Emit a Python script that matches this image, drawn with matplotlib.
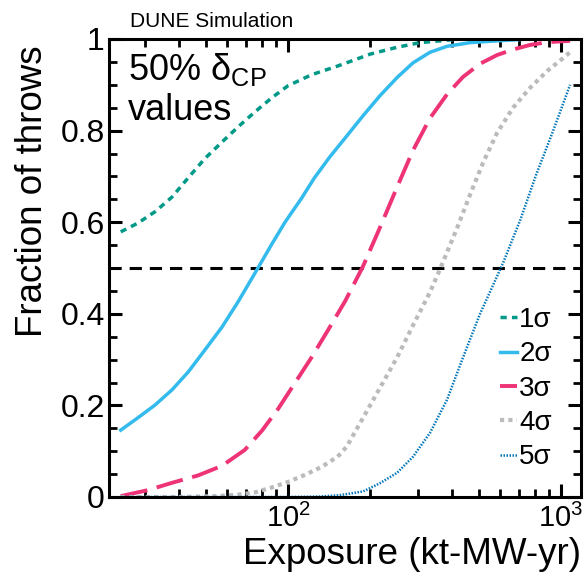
import numpy as np
import matplotlib
matplotlib.use("Agg")
import matplotlib.pyplot as plt
from matplotlib.ticker import LogLocator, MultipleLocator, NullFormatter

plt.rcParams['font.family'] = ['Liberation Sans', 'DejaVu Sans']
plt.rcParams['mathtext.fontset'] = 'custom'
plt.rcParams['mathtext.rm'] = 'Liberation Sans'
plt.rcParams['mathtext.it'] = 'Liberation Sans:italic'
plt.rcParams['mathtext.bf'] = 'Liberation Sans:bold'

# values (exposure in kt-MW-yr, fraction of throws)
x_1s = [24.4, 28.2, 32.6, 37.6, 43.1, 49.6, 57.3, 65.6, 75.7, 87.4, 100, 122, 152, 169, 200, 251, 304, 426, 600, 1100]
y_1s = [0.579, 0.598, 0.623, 0.655, 0.697, 0.739, 0.775, 0.808, 0.841, 0.872, 0.898, 0.922, 0.941, 0.951, 0.967, 0.982, 0.992, 1.0, 1.0, 1.0]

x_2s = [24.4, 28.2, 32.6, 37.6, 43.1, 49.6, 57.3, 65.6, 75.7, 87.4, 97.5, 112, 125, 142, 164, 188, 217, 251, 287, 331, 382, 464, 583, 770, 1100]
y_2s = [0.146, 0.173, 0.201, 0.234, 0.273, 0.321, 0.371, 0.426, 0.489, 0.553, 0.600, 0.652, 0.697, 0.742, 0.788, 0.832, 0.876, 0.916, 0.948, 0.971, 0.984, 0.992, 0.996, 1.0, 1.0]

x_3s = [24.4, 30.7, 37.6, 46.8, 57.3, 69.5, 80.3, 91.9, 106, 122, 140, 162, 188, 217, 251, 287, 331, 382, 437, 505, 583, 667, 769, 889, 1079]
y_3s = [0.002, 0.015, 0.031, 0.047, 0.068, 0.103, 0.145, 0.192, 0.249, 0.305, 0.364, 0.428, 0.503, 0.588, 0.677, 0.757, 0.827, 0.879, 0.917, 0.946, 0.965, 0.977, 0.987, 0.993, 0.996]

x_4s = [24.4, 40, 55, 65.6, 75.7, 87.4, 100, 115, 133, 152, 164, 188, 217, 251, 287, 331, 360, 416, 464, 518, 583, 667, 769, 889, 1016, 1097]
y_4s = [0.0, 0.0, 0.002, 0.005, 0.010, 0.021, 0.033, 0.048, 0.066, 0.088, 0.110, 0.172, 0.238, 0.305, 0.375, 0.447, 0.497, 0.587, 0.660, 0.730, 0.795, 0.850, 0.893, 0.930, 0.958, 0.975]

x_5s = [24.4, 60, 100, 130, 155, 188, 217, 251, 287, 331, 382, 437, 505, 583, 614, 710, 812, 925, 1079]
y_5s = [0.0, 0.0, 0.0, 0.001, 0.004, 0.012, 0.030, 0.053, 0.088, 0.140, 0.212, 0.304, 0.400, 0.482, 0.512, 0.606, 0.705, 0.792, 0.900]

labels = ['1σ', '2σ', '3σ', '4σ', '5σ']
colors = ['#009988', '#33BBEE', '#EE3377', '#BBBBBB', '#0077BB']
y_ticks = [0, 0.2, 0.4, 0.6, 0.8, 1.0]
y_ticklabels = ['0', '0.2', '0.4', '0.6', '0.8', '1']

fig = plt.figure(figsize=(5.85, 5.79), dpi=100)
ax = fig.add_axes([109/585, 1 - 497/579, 472/585, 458/579])

ax.axhline(0.5, color='black', lw=2.2, dashes=(4, 2.6), zorder=1)

ax.plot(x_1s, y_1s, color=colors[0], lw=2.5, dashes=(1.8, 1.5), label=labels[0])
ax.plot(x_2s, y_2s, color=colors[1], lw=2.5, label=labels[1])
ax.plot(x_3s, y_3s, color=colors[2], lw=2.8, dashes=(7, 2.5), label=labels[2])
ax.plot(x_4s, y_4s, color=colors[3], lw=3.0, dashes=(1, 1), label=labels[3])
ax.plot(x_5s, y_5s, color=colors[4], lw=1.8, dashes=(0.6, 0.6), label=labels[4])

ax.set_xscale('log')
ax.set_xlim(22.1, 1183)
ax.set_ylim(0, 1)
ax.xaxis.set_major_locator(LogLocator(base=10, numticks=10))
ax.xaxis.set_minor_locator(LogLocator(base=10, subs=np.arange(2, 10), numticks=20))
ax.xaxis.set_minor_formatter(NullFormatter())
ax.set_yticks(y_ticks, y_ticklabels)
ax.yaxis.set_minor_locator(MultipleLocator(0.05))

ax.tick_params(which='both', direction='in', top=True, right=True)
ax.tick_params(which='major', length=9.5, width=2.2)
ax.tick_params(which='minor', length=6, width=2.0)
ax.tick_params(axis='y', pad=3, labelsize=23)
ax.tick_params(axis='x', pad=5, labelsize=21)
for s in ax.spines.values():
    s.set_linewidth(2.2)

ax.set_xlabel('Exposure (kt-MW-yr)', fontsize=26.5, loc='right')
ax.xaxis.set_label_coords(1.0, -0.087)
ax.set_ylabel('Fraction of throws', fontsize=26.5, loc='top')
ax.yaxis.set_label_coords(-0.125, 0.985)

ax.text(0.040, 0.9105, '50% δ$_{\\mathrm{CP}}$', transform=ax.transAxes, fontsize=26, va='baseline')
ax.text(0.040, 0.823, 'values', transform=ax.transAxes, fontsize=26, va='baseline')
fig.text(130/585, 1 - 27/579, 'DUNE Simulation', fontsize=15, va='baseline')

ax.legend(loc='upper left', bbox_to_anchor=(0.828, 0.415), frameon=False, fontsize=20,
          handlelength=0.62, handletextpad=0.08, labelspacing=0.3, borderpad=0, borderaxespad=0)

fig.savefig('out.png', dpi=100)
